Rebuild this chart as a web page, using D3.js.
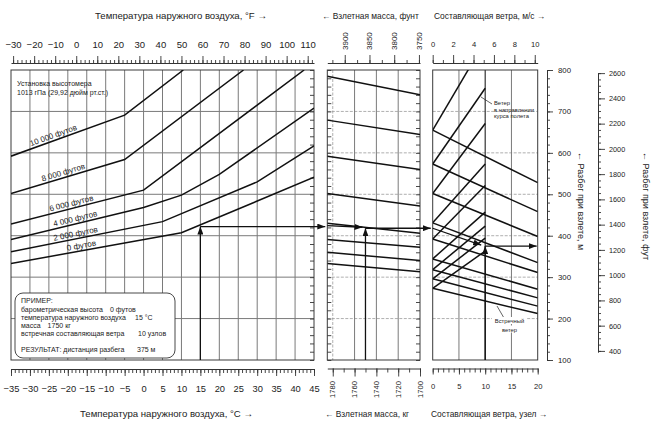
<!DOCTYPE html>
<html><head><meta charset="utf-8">
<script src="https://cdn.jsdelivr.net/npm/d3@7/dist/d3.min.js"></script>
<style>
body{margin:0;background:#fff}
</style>
</head><body>
<svg id="c" width="656" height="427"></svg>
<script>
// ---------------- DATA ----------------
const tempTicksF = [-30,-20,-10,0,10,20,30,40,50,60,70,80,90,100,110];
const tempTicksC = [-35,-30,-25,-20,-15,-10,-5,0,5,10,15,20,25,30,35,40,45];
const massTicksLb = [3900,3850,3800,3750];
const massTicksKg = [1780,1760,1740,1720,1700];
const windTicksMs = [0,2,4,6,8,10];
const windTicksKn = [0,5,10,15,20];
const distTicksM = [100,200,300,400,500,600,700,800];
const distTicksFt = [400,600,800,1000,1200,1400,1600,1800,2000,2200,2400,2600];

const altitudeNames = ["0 футов","2 000 футов","4 000 футов","6 000 футов","8 000 футов","10 000 футов"];
const alt0Temp = [-35, 10, 45];            const alt0Dist = [333, 407, 541];
const alt2000Temp = [-35, 5, 30, 45];      const alt2000Dist = [361, 434, 530, 617];
const alt4000Temp = [-35, 0, 10, 20, 45];  const alt4000Dist = [391, 468, 498, 548, 708];
const alt6000Temp = [-35, 0, 42.4];        const alt6000Dist = [428, 510, 800];
const alt8000Temp = [-35, -5, 26.4];       const alt8000Dist = [502, 584, 800];
const alt10000Temp = [-35, -5, 10.5];      const alt10000Dist = [592, 691, 800];

const massGuideAtMax = [785, 679, 592, 502, 430, 391, 360, 333];   // at 1785 kg
const massGuideAtMin = [740, 644, 560, 472, 406, 372, 340, 313];   // at 1700 kg

const headwindAt0  = [655, 573, 502, 431, 392, 344, 318, 296, 273];
const headwindAt20 = [528, 458, 398, 335, 311, 271, 250, 230, 212];
const tailwindAt0  = [655, 573, 502, 431, 392, 344, 318, 296, 273];
const tailwindAt10 = [870, 756, 671, 573, 521, 457, 423, 394, 363];

const exampleTempC = 15, exampleMassKg = 1750, exampleWindKn = 10;
const exampleDist = [422, 418, 375];   // after temperature, after mass, result

// ---------------- LAYOUT ----------------
const FONT = "'Liberation Sans', Arial, Helvetica, sans-serif";
const INK = "#222";
const TOP = 70, BOT = 360;
const P1 = [11, 314], P2 = [327.3, 420], P3 = [432.7, 537.7];

const svg = d3.select("#c").attr("font-family", FONT);
const defs = svg.append("defs");
defs.append("marker").attr("id","ah").attr("viewBox","0 0 8 6").attr("refX",8).attr("refY",3)
  .attr("markerWidth",8).attr("markerHeight",6).attr("markerUnits","userSpaceOnUse").attr("orient","auto")
  .append("path").attr("d","M0,0L8,3L0,6Z").attr("fill","#111");
[["cl1",P1],["cl2",P2],["cl3",P3]].forEach(([id,p])=>{
  defs.append("clipPath").attr("id",id).append("rect").attr("x",p[0]).attr("y",TOP).attr("width",p[1]-p[0]).attr("height",BOT-TOP);
});

const yM = d3.scaleLinear().domain([100,800]).range([BOT,TOP]);
const xC = d3.scaleLinear().domain([-35,45]).range(P1);
const xF = d3.scaleLinear().domain([-35*9/5+32, 45*9/5+32]).range(P1);
const xKg = d3.scaleLinear().domain([1785,1700]).range(P2);
const xLb = d3.scaleLinear().domain([1785/0.45359237, 1700/0.45359237]).range(P2);
const xKn = d3.scaleLinear().domain([0,20]).range(P3);
const xMs = d3.scaleLinear().domain([0, 20/1.943844]).range(P3);
const ftLo = 390, ftHi = 2600;
const yFt = d3.scaleLinear().domain([ftLo, ftHi]).range([yM(ftLo*0.3048), yM(ftHi*0.3048)]);

function styleAxis(g, fs){
  g.attr("font-family", FONT).attr("font-size", fs);
  g.selectAll("path.domain").attr("stroke","#333").attr("stroke-width",1);
  g.selectAll(".tick line").attr("stroke","#333").attr("stroke-width",0.9);
  g.selectAll(".tick text").attr("fill",INK);
  return g;
}
function noDomain(g){ g.select("path.domain").remove(); return g; }

// ---------------- GRIDS ----------------
const grid = svg.append("g");
grid.selectAll(".v1").data(d3.range(-30,45,5)).join("line")
  .attr("x1",d=>xC(d)).attr("x2",d=>xC(d)).attr("y1",TOP).attr("y2",BOT)
  .attr("stroke","#7a7a7a").attr("stroke-width",1);
grid.selectAll(".h1").data([200,300,400,500,600,700]).join("line")
  .attr("x1",P1[0]).attr("x2",P1[1]).attr("y1",d=>yM(d)).attr("y2",d=>yM(d))
  .attr("stroke","#7a7a7a").attr("stroke-width",1);
[P2,P3].forEach(p=>{
  grid.append("g").selectAll("line").data([200,300,400,500,600,700]).join("line")
    .attr("x1",p[0]).attr("x2",p[1]).attr("y1",d=>yM(d)).attr("y2",d=>yM(d))
    .attr("stroke","#9a9a9a").attr("stroke-width",0.8).attr("stroke-dasharray","3,1.5");
});
grid.append("line").attr("x1",xKg(1780)).attr("x2",xKg(1780)).attr("y1",TOP).attr("y2",BOT)
  .attr("stroke","#9a9a9a").attr("stroke-width",0.8).attr("stroke-dasharray","3,1.5");
grid.selectAll(".v2").data([1760,1740,1720]).join("line")
  .attr("x1",d=>xKg(d)).attr("x2",d=>xKg(d)).attr("y1",TOP).attr("y2",BOT)
  .attr("stroke","#7a7a7a").attr("stroke-width",1);
grid.selectAll(".v3").data([5,10,15]).join("line")
  .attr("x1",d=>xKn(d)).attr("x2",d=>xKn(d)).attr("y1",TOP).attr("y2",BOT)
  .attr("stroke",d=>d===10?"#333":"#7a7a7a").attr("stroke-width",d=>d===10?1.2:1);

// ---------------- PANEL FRAMES ----------------
[P1,P2,P3].forEach(p=>{
  svg.append("rect").attr("x",p[0]).attr("y",TOP).attr("width",p[1]-p[0]).attr("height",BOT-TOP)
    .attr("fill","none").attr("stroke","#3a3a3a").attr("stroke-width",1);
});
const edgeTicks = d3.range(100,801,20);
[[P1[1],-1],[P2[1],-1],[P2[0],1]].forEach(([x,dir])=>{
  const g = svg.append("g").attr("transform",`translate(${x},0)`)
    .call((dir<0?d3.axisLeft(yM):d3.axisRight(yM)).tickValues(edgeTicks).tickSize(4).tickFormat(""));
  noDomain(g); styleAxis(g,8);
});

// ---------------- PANEL 1 LINES ----------------
const lineC = d3.line().x(d=>xC(d[0])).y(d=>yM(d[1]));
const altSeries = [
  d3.zip(alt0Temp, alt0Dist), d3.zip(alt2000Temp, alt2000Dist), d3.zip(alt4000Temp, alt4000Dist),
  d3.zip(alt6000Temp, alt6000Dist), d3.zip(alt8000Temp, alt8000Dist), d3.zip(alt10000Temp, alt10000Dist)
];
svg.append("g").attr("clip-path","url(#cl1)").selectAll("path").data(altSeries).join("path")
  .attr("d",lineC).attr("fill","none").attr("stroke","#111").attr("stroke-width",1.5);

const labelTemps = [-20, -23.5, -23.5, -24.5, -26.5, -29.5];
altSeries.forEach((s,i)=>{
  const a = s[0], b = s[1];
  const t = labelTemps[i];
  const m = a[1] + (b[1]-a[1])*(t-a[0])/(b[0]-a[0]);
  const ang = Math.atan2(yM(b[1])-yM(a[1]), xC(b[0])-xC(a[0]))*180/Math.PI;
  svg.append("text").attr("transform",`translate(${xC(t)},${yM(m)}) rotate(${ang}) translate(0,-2.5)`)
    .attr("font-size",8).attr("fill",INK).text(altitudeNames[i]);
});
svg.append("text").attr("x",17).attr("y",86).attr("font-size",7).attr("fill",INK).text("Установка высотомера");
svg.append("text").attr("x",17).attr("y",94.5).attr("font-size",7).attr("fill",INK).text("1013 гПа (29,92 дюйм рт.ст.)");

// ---------------- PANEL 2 LINES ----------------
const lineKg = d3.line().x(d=>xKg(d[0])).y(d=>yM(d[1]));
svg.append("g").attr("clip-path","url(#cl2)").selectAll("path")
  .data(d3.zip(massGuideAtMax, massGuideAtMin).map(([a,b])=>[[1785,a],[1700,b]])).join("path")
  .attr("d",lineKg).attr("fill","none").attr("stroke","#111").attr("stroke-width",1.5);

// ---------------- PANEL 3 LINES ----------------
const lineKn = d3.line().x(d=>xKn(d[0])).y(d=>yM(d[1]));
const g3 = svg.append("g").attr("clip-path","url(#cl3)");
g3.selectAll(".hw").data(d3.zip(headwindAt0, headwindAt20).map(([a,b])=>[[0,a],[20,b]])).join("path")
  .attr("d",lineKn).attr("fill","none").attr("stroke","#111").attr("stroke-width",1.5);
g3.selectAll(".tw").data(d3.zip(tailwindAt0, tailwindAt10).map(([a,b])=>[[0,a],[10,b]])).join("path")
  .attr("d",lineKn).attr("fill","none").attr("stroke","#111").attr("stroke-width",1.5);

svg.append("line").attr("x1",492).attr("y1",104).attr("x2",481).attr("y2",97).attr("stroke","#222").attr("stroke-width",0.7);
["Ветер","в направлении","курса полета"].forEach((t,i)=>{
  svg.append("text").attr("x",494).attr("y",105+i*6.6).attr("font-size",5.8).attr("fill",INK).text(t);
});
svg.append("line").attr("x1",504).attr("y1",318).attr("x2",497).attr("y2",306).attr("stroke","#222").attr("stroke-width",0.7);
["Встречный","ветер"].forEach((t,i)=>{
  svg.append("rect").attr("x",i?502:492).attr("y",317+i*8.5).attr("width",i?15:35).attr("height",7).attr("fill","#fff");
  svg.append("text").attr("x",509.5).attr("y",323+i*8.5).attr("font-size",5.8).attr("fill",INK).attr("text-anchor","middle").text(t);
});

// ---------------- EXAMPLE ARROWS ----------------
const arrows = svg.append("g").attr("stroke","#111").attr("stroke-width",1.3).attr("fill","none");
function arrow(x1,y1,x2,y2){ arrows.append("line").attr("x1",x1).attr("y1",y1).attr("x2",x2).attr("y2",y2).attr("marker-end","url(#ah)"); }
const yA = yM(exampleDist[0]), yB = yM(exampleDist[1]), yR = yM(exampleDist[2]);
arrow(xC(exampleTempC), BOT, xC(exampleTempC), yA);
arrow(xC(exampleTempC), yA, P2[0]-2, yA);
arrow(P2[0], yA-1, xKg(exampleMassKg)-3, yB-1);
arrow(xKg(exampleMassKg), BOT, xKg(exampleMassKg), yB);
arrow(xKg(exampleMassKg), yB, P3[0]-2, yB);
arrow(P3[0], yB, xKn(exampleWindKn)-4, yR-1);
arrow(xKn(exampleWindKn), BOT, xKn(exampleWindKn), yR);
arrow(xKn(exampleWindKn), yR, P3[1]-1, yR);

// ---------------- EXAMPLE BOX ----------------
svg.append("rect").attr("x",15).attr("y",293).attr("width",160).attr("height",65).attr("rx",8)
  .attr("fill","#fff").attr("stroke","#333").attr("stroke-width",0.9);
const boxRows = [
  [303, "ПРИМЕР:", null, 0],
  [311.5, "барометрическая высота", "0 футов", 0],
  [319.5, "температура наружного воздуха", exampleTempC+" °С", 135],
  [327.5, "масса", exampleMassKg+" кг", 0],
  [335.5, "встречная составляющая ветра", exampleWindKn+" узлов", 138],
  [351.5, "РЕЗУЛЬТАТ: дистанция разбега", exampleDist[2]+" м", 137]
];
boxRows.forEach(([y,a,b,bx])=>{
  const t = svg.append("text").attr("x",21).attr("y",y).attr("font-size",7).attr("fill",INK).text(a);
  if(b){
    const w = t.node().getComputedTextLength();
    svg.append("text").attr("x",Math.max(21+w+7, bx)).attr("y",y).attr("font-size",7).attr("fill",INK).text(b);
  }
});

// ---------------- AXES ----------------
styleAxis(noDomain(svg.append("g").attr("transform","translate(0,63)")
  .call(d3.axisTop(xF).tickValues(d3.range(-30,113,2)).tickSize(3).tickFormat(""))),9);
styleAxis(svg.append("g").attr("transform","translate(0,63)")
  .call(d3.axisTop(xF).tickValues(tempTicksF).tickSize(7).tickSizeOuter(0).tickPadding(8)),9.5);
styleAxis(noDomain(svg.append("g").attr("transform","translate(0,369)")
  .call(d3.axisBottom(xC).tickValues(d3.range(-35,46,1)).tickSize(4).tickFormat(""))),9);
styleAxis(svg.append("g").attr("transform","translate(0,369)")
  .call(d3.axisBottom(xC).tickValues(tempTicksC).tickSize(7).tickSizeOuter(0).tickPadding(9)),9.3);

styleAxis(noDomain(svg.append("g").attr("transform","translate(0,63)")
  .call(d3.axisTop(xLb).tickValues(d3.range(3925,3749,-25)).tickSize(3).tickFormat(""))),8);
styleAxis(svg.append("g").attr("transform","translate(0,63)")
  .call(d3.axisTop(xLb).tickValues(massTicksLb).tickSize(8).tickSizeOuter(0).tickFormat("")),8);
svg.append("g").selectAll("text").data(massTicksLb).join("text")
  .attr("transform",d=>`translate(${xLb(d)+2.8},50) rotate(-90)`).attr("font-size",8).attr("fill",INK).text(d=>d);
styleAxis(noDomain(svg.append("g").attr("transform","translate(0,368.5)")
  .call(d3.axisBottom(xKg).tickValues(d3.range(1780,1699,-10)).tickSize(4).tickFormat(""))),8);
styleAxis(svg.append("g").attr("transform","translate(0,368.5)")
  .call(d3.axisBottom(xKg).tickValues(massTicksKg).tickSize(8).tickSizeOuter(0).tickFormat("")),8);
svg.append("g").selectAll("text").data(massTicksKg).join("text")
  .attr("transform",d=>`translate(${xKg(d)+2.7},381) rotate(-90)`).attr("text-anchor","end")
  .attr("font-size",7.6).attr("fill",INK).text(d=>d);

styleAxis(noDomain(svg.append("g").attr("transform","translate(0,63)")
  .call(d3.axisTop(xMs).tickValues(d3.range(0,11,1)).tickSize(3).tickFormat(""))),8);
styleAxis(svg.append("g").attr("transform","translate(0,63)")
  .call(d3.axisTop(xMs).tickValues(windTicksMs).tickSize(8).tickSizeOuter(0).tickPadding(8)),7.6);
styleAxis(noDomain(svg.append("g").attr("transform","translate(0,368.5)")
  .call(d3.axisBottom(xKn).tickValues(d3.range(0,21,1)).tickSize(4).tickFormat(""))),8);
styleAxis(svg.append("g").attr("transform","translate(0,368.5)")
  .call(d3.axisBottom(xKn).tickValues(windTicksKn).tickSize(6).tickSizeOuter(0).tickPadding(9)),7.6);

styleAxis(noDomain(svg.append("g").attr("transform","translate(547,0)")
  .call(d3.axisRight(yM).tickValues(d3.range(100,801,20)).tickSize(3).tickFormat(""))),8);
styleAxis(svg.append("g").attr("transform","translate(547,0)")
  .call(d3.axisRight(yM).tickValues(distTicksM).tickSize(6).tickSizeOuter(0).tickPadding(5).tickFormat(d3.format("d"))),7.8);
styleAxis(noDomain(svg.append("g").attr("transform","translate(598,0)")
  .call(d3.axisRight(yFt).tickValues(d3.range(400,2601,50)).tickSize(3).tickFormat(""))),8);
styleAxis(svg.append("g").attr("transform","translate(598,0)")
  .call(d3.axisRight(yFt).tickValues(distTicksFt).tickSize(7).tickSizeOuter(0).tickPadding(4).tickFormat(d3.format("d"))),7.3);

// ---------------- TITLES ----------------
function title(x,y,t,fs,anchor){ svg.append("text").attr("x",x).attr("y",y).attr("font-size",fs).attr("fill",INK)
  .attr("text-anchor",anchor||"start").text(t); }
title(95,18.5,"Температура наружного воздуха, °F  →",9.6);
title(322,18.5,"←  Взлетная масса, фунт",8.4);
title(434,18.5,"Составляющая ветра, м/с  →",8.4);
title(80,416.5,"Температура наружного воздуха, °С  →",9.6);
title(325,416.5,"←  Взлетная масса, кг",8.4);
title(431,416.5,"Составляющая ветра, узел  →",8.4);
svg.append("text").attr("transform","translate(578,152) rotate(90)").attr("font-size",9).attr("fill",INK)
  .text("←  Разбег при взлете, м");
svg.append("text").attr("transform","translate(643,152) rotate(90)").attr("font-size",9).attr("fill",INK)
  .text("←  Разбег при взлете, фут");
</script>
</body></html>
